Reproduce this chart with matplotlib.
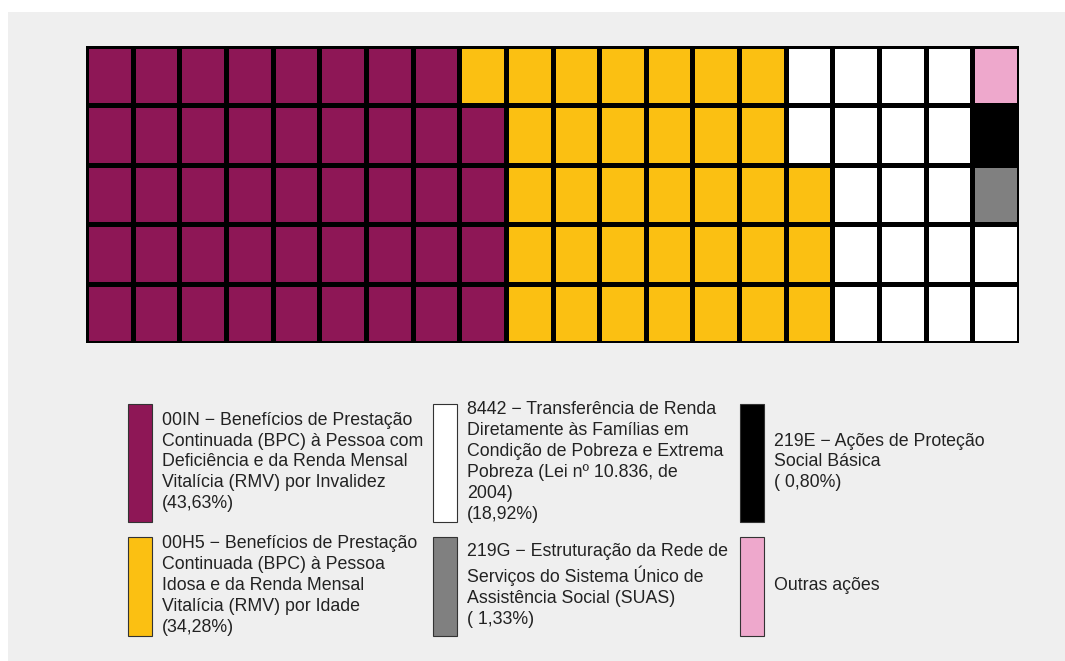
import numpy as np
import matplotlib
import matplotlib.pyplot as plt
from matplotlib.colors import ListedColormap
from matplotlib.patches import Rectangle

plt.rcParams['font.family'] = ['Liberation Sans', 'DejaVu Sans']

# data
labels = [
    "00IN \u2212 Benefícios de Prestação\nContinuada (BPC) à Pessoa com\nDeficiência e da Renda Mensal\nVitalícia (RMV) por Invalidez\n(43,63%)",
    "00H5 \u2212 Benefícios de Prestação\nContinuada (BPC) à Pessoa\nIdosa e da Renda Mensal\nVitalícia (RMV) por Idade\n(34,28%)",
    "8442 \u2212 Transferência de Renda\nDiretamente às Famílias em\nCondição de Pobreza e Extrema\nPobreza (Lei nº 10.836, de\n2004)\n(18,92%)",
    "219G \u2212 Estruturação da Rede de\nServiços do Sistema Único de\nAssistência Social (SUAS)\n( 1,33%)",
    "219E \u2212 Ações de Proteção\nSocial Básica\n( 0,80%)",
    "Outras ações",
]
shares = [43.63, 34.28, 18.92, 1.33, 0.80, 1.04]
colors = ['#8E1756', '#FBC012', '#FFFFFF', '#808080', '#000000', '#EEA8CC']

n_cols, n_rows = 20, 5

counts = [int(round(s)) for s in shares]
fill = np.repeat(np.arange(len(counts)), counts)[:n_cols * n_rows]
# column-major, bottom to top
grid = fill.reshape(n_cols, n_rows).T

W, H = 1065, 661
fig = plt.figure(figsize=(W / 100, H / 100), dpi=100, facecolor='white')

# grey panel
fig.patches.append(Rectangle((8 / W, 0), 1 - 8 / W, 1 - 12 / H,
                             transform=fig.transFigure, facecolor='#EFEFEF',
                             edgecolor='none', zorder=-5))

ax = fig.add_axes([86 / W, 1 - 343 / H, 933 / W, 297 / H])
ax.pcolormesh(np.arange(n_cols + 1), np.arange(n_rows + 1), grid,
              cmap=ListedColormap(colors), vmin=-0.5, vmax=len(colors) - 0.5,
              edgecolors='black', linewidth=2.2)
ax.set_xlim(0, n_cols)
ax.set_ylim(0, n_rows)
ax.set_axis_off()

# legend (2 rows x 3 columns, filled by column)
lax = fig.add_axes([0, 0, 1, 1])
lax.set_xlim(0, W)
lax.set_ylim(H, 0)
lax.set_axis_off()

col_x = [128, 433, 740]
row_y = [(404, 522), (537, 636)]
for i, (lab, c) in enumerate(zip(labels, colors)):
    ci, ri = i // 2, i % 2
    x0 = col_x[ci]
    y0, y1 = row_y[ri]
    lax.add_patch(Rectangle((x0, y0), 24, y1 - y0, facecolor=c,
                            edgecolor='#333333', linewidth=0.8))
    lax.text(x0 + 34, (y0 + y1) / 2 - 1, lab, ha='left', va='center',
             fontsize=12.8, color='#222222', linespacing=1.3)

fig.savefig('out.png', dpi=100, facecolor=fig.get_facecolor())
